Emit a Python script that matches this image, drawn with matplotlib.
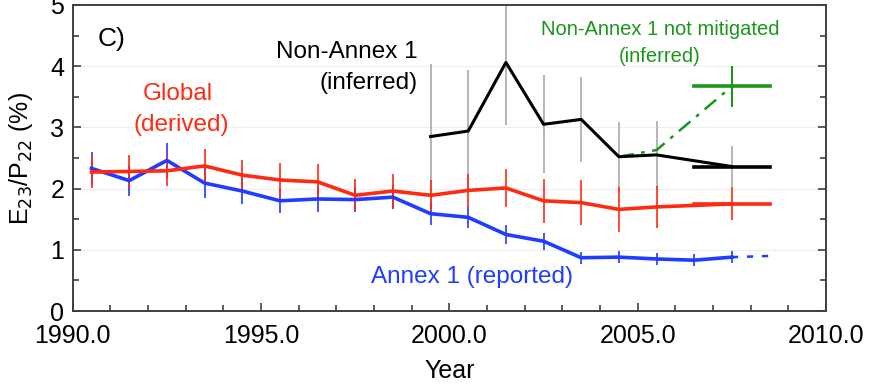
import numpy as np
import matplotlib
matplotlib.use("Agg")
import matplotlib.pyplot as plt

plt.rcParams['font.family'] = ['Liberation Sans', 'DejaVu Sans']

# ---- data ----
annex_years = [1990.5, 1991.5, 1992.5, 1993.5, 1994.5, 1995.5, 1996.5, 1997.5, 1998.5,
               1999.5, 2000.5, 2001.5, 2002.5, 2003.5, 2004.5, 2005.5, 2006.5, 2007.5]
annex_vals = [2.33, 2.13, 2.46, 2.09, 1.96, 1.80, 1.83, 1.82, 1.86,
              1.59, 1.53, 1.25, 1.14, 0.87, 0.88, 0.85, 0.83, 0.88]
annex_err = [0.27, 0.25, 0.28, 0.24, 0.22, 0.20, 0.21, 0.21, 0.20,
             0.19, 0.17, 0.15, 0.14, 0.10, 0.10, 0.10, 0.10, 0.10]
annex_ext_years = [2007.5, 2008.5]
annex_ext_vals = [0.88, 0.90]

global_years = [1990.5, 1991.5, 1992.5, 1993.5, 1994.5, 1995.5, 1996.5, 1997.5, 1998.5,
                1999.5, 2000.5, 2001.5, 2002.5, 2003.5, 2004.5, 2005.5, 2007.5]
global_vals = [2.27, 2.28, 2.29, 2.37, 2.22, 2.14, 2.11, 1.89, 1.96,
               1.89, 1.97, 2.01, 1.80, 1.77, 1.66, 1.70, 1.75]
global_err = [0.26, 0.27, 0.25, 0.27, 0.25, 0.27, 0.29, 0.27, 0.28,
              0.25, 0.27, 0.31, 0.36, 0.37, 0.37, 0.35, 0.27]

nonannex_years = [1999.5, 2000.5, 2001.5, 2002.5, 2003.5, 2004.5, 2005.5, 2007.5]
nonannex_vals = [2.85, 2.94, 4.06, 3.05, 3.13, 2.52, 2.55, 2.36]
nonannex_err = [1.18, 1.00, 1.02, 0.80, 0.70, 0.56, 0.55, 0.33]

notmit_years = [2004.5, 2005.5, 2007.5]
notmit_vals = [2.52, 2.63, 3.67]
notmit_err = 0.33

avg_span = [2006.5, 2008.5]  # 2007 average bars
global_avg = 1.75
nonannex_avg = 2.36
notmit_avg = 3.67

xticks = [1990, 1995, 2000, 2005, 2010]
xticklabels = ["1990.0", "1995.0", "2000.0", "2005.0", "2010.0"]

# ---- colours ----
RED = '#ff2a12'
BLUE = '#1f3cff'
GREEN = '#1a961a'
GREY = '#a9a9a9'

fig = plt.figure(figsize=(8.75, 3.85), dpi=100)
ax = fig.add_axes([0.0831, 0.1922, 0.861, 0.795])

ax.set_xlim(1990, 2010)
ax.set_ylim(0, 5)

for v in [1, 2, 3, 4]:
    ax.axhline(v, color='#eeeeee', lw=0.8, zorder=0)

# Non-Annex 1 (inferred)
ax.errorbar(nonannex_years, nonannex_vals, yerr=nonannex_err, fmt='none',
            ecolor=GREY, elinewidth=1.2, capsize=0, zorder=2)
ax.plot(nonannex_years, nonannex_vals, color='black', lw=2.2, zorder=5)
ax.plot(avg_span, [nonannex_avg, nonannex_avg], color='black', lw=2.6, zorder=5)

# Non-Annex 1 not mitigated
ax.plot(notmit_years, notmit_vals, color=GREEN, lw=1.8, ls=(0, (6, 3, 1.5, 3)), zorder=4)
ax.errorbar([notmit_years[-1]], [notmit_vals[-1]], yerr=notmit_err, fmt='none',
            ecolor=GREEN, elinewidth=1.5, capsize=0, zorder=4)
ax.plot(avg_span, [notmit_avg, notmit_avg], color=GREEN, lw=2.6, zorder=4)

# Annex 1 (reported)
ax.errorbar(annex_years, annex_vals, yerr=annex_err, fmt='none',
            ecolor=BLUE, elinewidth=1.2, capsize=0, zorder=3)
ax.plot(annex_years, annex_vals, color=BLUE, lw=2.6, zorder=6)
ax.plot(annex_ext_years, annex_ext_vals, color=BLUE, lw=1.8, ls=(0, (2.5, 3.5)), zorder=6)

# Global (derived)
ax.errorbar(global_years, global_vals, yerr=global_err, fmt='none',
            ecolor=RED, elinewidth=1.2, capsize=0, zorder=4)
ax.plot(global_years, global_vals, color=RED, lw=2.6, zorder=7)
ax.plot(avg_span, [global_avg, global_avg], color=RED, lw=2.6, zorder=7)

# ---- axes styling ----
for s in ax.spines.values():
    s.set_color('#404040')
    s.set_linewidth(1.4)

ax.set_xticks(xticks)
ax.set_xticklabels(xticklabels)
ax.set_xticks(np.arange(1990, 2011, 1), minor=True)
ax.set_yticks([0, 1, 2, 3, 4, 5])
ax.set_yticks(np.arange(0, 5.01, 0.5), minor=True)
ax.tick_params(axis='both', which='major', direction='in', length=6, width=1.2,
               color='#404040', labelsize=18)
ax.tick_params(axis='x', which='major', pad=9)
ax.tick_params(axis='y', which='major', pad=6)
ax.tick_params(axis='both', which='minor', direction='in', length=4, width=1.2,
               color='#404040')
ax.tick_params(axis='y', which='both', left=True, right=True)
ax.tick_params(axis='x', which='both', top=False, bottom=True)

ax.set_xlabel('Year', fontsize=18, labelpad=8)
ax.set_ylabel('E$_{23}$/P$_{22}$ (%)', fontsize=18, labelpad=11)

# ---- annotations ----
ax.text(1990.66, 4.45, 'C)', fontsize=19, ha='left', va='center')
ax.text(1999.15, 4.23, 'Non-Annex 1', fontsize=17.5, ha='right', va='center', color='black')
ax.text(1999.15, 3.73, '(inferred)', fontsize=17.5, ha='right', va='center', color='black')
ax.text(1992.8, 3.55, 'Global', fontsize=17.5, ha='center', va='center', color=RED)
ax.text(1992.88, 3.04, '(derived)', fontsize=17.5, ha='center', va='center', color=RED)
ax.text(2005.59, 4.6, 'Non-Annex 1 not mitigated', fontsize=14.5, ha='center', va='center', color=GREEN)
ax.text(2005.59, 4.16, '(inferred)', fontsize=14.5, ha='center', va='center', color=GREEN)
ax.text(2000.61, 0.55, 'Annex 1 (reported)', fontsize=17.5, ha='center', va='center', color=BLUE)

fig.savefig('out.png', dpi=100)
